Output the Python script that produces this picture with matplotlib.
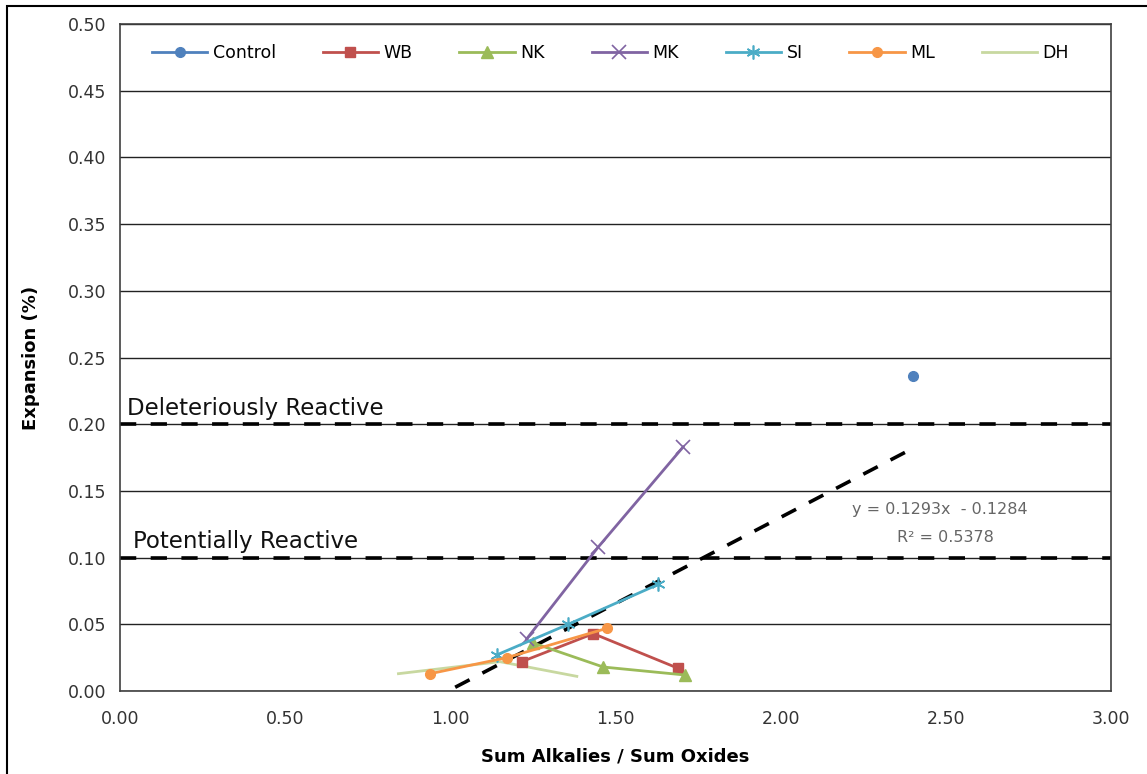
import numpy as np
import matplotlib.pyplot as plt
from matplotlib.patches import Rectangle

# Daten
control_x = [2.40]
control_y = [0.236]
wb_x = [1.216, 1.433, 1.690]
wb_y = [0.022, 0.043, 0.017]
nk_x = [1.251, 1.463, 1.711]
nk_y = [0.036, 0.018, 0.012]
mk_x = [1.231, 1.448, 1.705]
mk_y = [0.039, 0.108, 0.183]
si_x = [1.140, 1.357, 1.630]
si_y = [0.027, 0.050, 0.080]
ml_x = [0.939, 1.171, 1.474]
ml_y = [0.013, 0.025, 0.047]
dh_x = [0.843, 1.150, 1.383]
dh_y = [0.013, 0.022, 0.011]

slope, intercept, r2 = 0.1293, -0.1284, 0.5378
trend_x = [0.85, 2.40]
limits = [0.10, 0.20]

plt.rcParams['font.family'] = ['DejaVu Sans']

fig = plt.figure(figsize=(11.47, 7.74), dpi=100)
ax = fig.add_axes([0.1046, 0.1072, 0.8640, 0.8618])

ax.set_xlim(0, 3.0)
ax.set_ylim(0, 0.5)
ax.set_xticks(np.arange(0, 3.01, 0.5))
ax.set_yticks(np.arange(0, 0.501, 0.05))
ax.xaxis.set_major_formatter(plt.FormatStrFormatter('%.2f'))
ax.yaxis.set_major_formatter(plt.FormatStrFormatter('%.2f'))
ax.tick_params(length=0, labelsize=12.5, labelcolor='#333333')
ax.tick_params(axis='x', pad=14)
ax.tick_params(axis='y', pad=10)
ax.grid(axis='y', color='#222222', linewidth=1.0)
ax.set_axisbelow(True)
for s in ax.spines.values():
    s.set_color('#404040')
    s.set_linewidth(1.2)

# Grenzlinien
for lim in limits:
    ax.axhline(lim, color='black', linewidth=2.6, dashes=(4.5, 4.0), zorder=2)
ax.text(0.02, 0.2035, 'Deleteriously Reactive', fontsize=16.5, color='#111111', va='bottom')
ax.text(0.038, 0.1035, 'Potentially Reactive', fontsize=16.5, color='#111111', va='bottom')

# Trendlinie
tx = np.array(trend_x)
ax.plot(tx, slope * tx + intercept, color='black', linewidth=2.6, dashes=(4.5, 4.0), zorder=3)
ax.text(2.216, 0.136, 'y = 0.1293x  - 0.1284', fontsize=11.5, color='#666666', va='center')
ax.text(2.50, 0.115, 'R² = 0.5378', fontsize=11.5, color='#666666', va='center', ha='center')

ms = 7
ax.plot(control_x, control_y, color='#4F81BD', marker='o', ms=ms, lw=2, label='Control', zorder=5)
ax.plot(wb_x, wb_y, color='#C0504D', marker='s', ms=ms, lw=2, label='WB', zorder=5)
ax.plot(nk_x, nk_y, color='#9BBB59', marker='^', ms=ms + 1, lw=2, label='NK', zorder=5)
ax.plot(mk_x, mk_y, color='#8064A2', marker='x', ms=ms + 3, mew=1.2, lw=2, label='MK', zorder=5)
ax.plot(si_x, si_y, color='#4BACC6', marker=(6, 2, 0), ms=ms + 3, mew=1.2, lw=2, label='SI', zorder=5)
ax.plot(ml_x, ml_y, color='#F79646', marker='o', ms=ms, lw=2, label='ML', zorder=5)
ax.plot(dh_x, dh_y, color='#C8D8A0', lw=2, label='DH', zorder=4)

ax.legend(loc='upper center', bbox_to_anchor=(0.495, 1.0), ncol=7, frameon=False,
          fontsize=12.5, handlelength=3.2, columnspacing=2.7, handletextpad=0.3,
          borderaxespad=0.75)

ax.set_xlabel('Sum Alkalies / Sum Oxides', fontsize=13, fontweight='bold', labelpad=14)
ax.set_ylabel('Expansion (%)', fontsize=13, fontweight='bold', labelpad=20)

# Rahmen um das Diagramm
fig.patches.append(Rectangle((7 / 1147, -0.1), 1.2, 0.1 + (774 - 6) / 774,
                             transform=fig.transFigure, fill=False,
                             edgecolor='black', linewidth=1.5))

fig.savefig('out.png', dpi=100)
